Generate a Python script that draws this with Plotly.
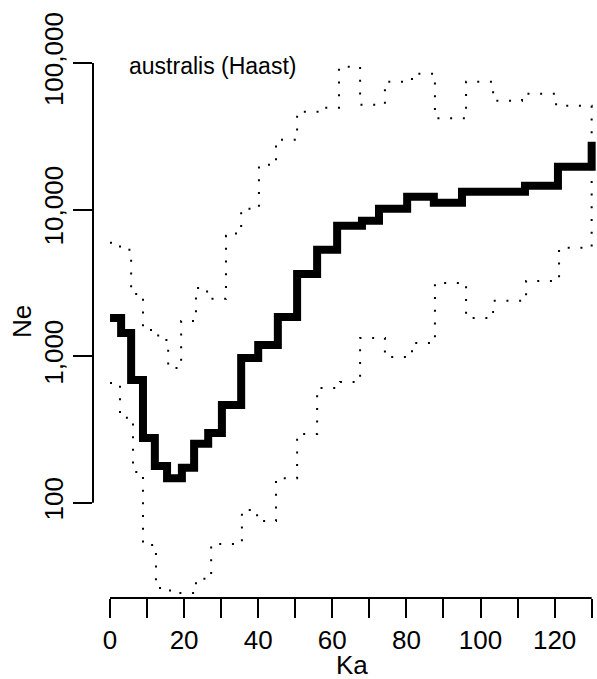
import math
import plotly.graph_objects as go

# ---- data ----
ka_median = [0, 3.0, 5.7, 8.9, 12.1, 15.4, 19.4, 22.7, 26.5, 30.2, 35.4, 40.0, 45.3, 50.5,
             55.9, 61.3, 68.0, 72.6, 80.2, 87.4, 95.0, 112.0, 120.9, 130]
ne_median = [1823, 1440, 688, 276, 178, 147, 173, 252, 299, 464, 972, 1193, 1852, 3640,
             5308, 7740, 8373, 10110, 12210, 11110, 13210, 14510, 19560, 28990]

ka_upper = [0, 2.7, 5.7, 8.9, 13.0, 15.7, 19.2, 23.2, 26.2, 31.3, 34.0, 35.4, 40.2, 44.8,
            50.5, 57.2, 61.8, 67.5, 74.2, 81.5, 87.7, 96.1, 103.4, 111.2, 120.4, 130]
ne_upper = [5925, 5308, 2658, 1510, 1290, 831, 1739, 2921, 2458, 6614, 7502, 10110, 20190, 29910,
            46430, 49440, 94210, 51830, 74400, 84400, 42000, 74400, 55210, 61630, 51020, 30860]

ka_lower = [0, 2.7, 6.2, 8.9, 12.4, 16.2, 23.2, 27.3, 35.6, 39.7, 44.8, 50.5, 55.9, 62.1,
            67.5, 74.2, 81.5, 87.7, 96.1, 103.4, 112.3, 121.2, 130]
ne_lower = [656, 379, 162, 51.4, 26.2, 24.2, 30.2, 52.3, 89.2, 75.0, 147, 294, 607, 667,
            1331, 987, 1231, 3160, 1823, 2382, 3261, 5477, 25560]

x_tickvals = list(range(0, 131, 10))
x_ticktext = [str(v) if v % 20 == 0 else "" for v in x_tickvals]
y_tickvals = [100, 1000, 10000, 100000]
y_ticktext = ["100", "1,000", "10,000", "100,000"]

title_text = "australis (Haast)"
x_label = "Ka"
y_label = "Ne"

# ---- figure ----
FONT = "Liberation Sans, Arial, Helvetica, sans-serif"
X_RANGE = [-4.59, 131.44]
Y_RANGE = [1.3495, 5.116]  # log10 units

fig = go.Figure()
dot = dict(color="black", width=2, dash="2px,10.7px")
fig.add_trace(go.Scatter(x=ka_upper, y=ne_upper, mode="lines", line=dict(shape="hv", **dot),
                         hoverinfo="skip", showlegend=False))
fig.add_trace(go.Scatter(x=ka_lower, y=ne_lower, mode="lines", line=dict(shape="hv", **dot),
                         hoverinfo="skip", showlegend=False))
fig.add_trace(go.Scatter(x=ka_median, y=ne_median, mode="lines",
                         line=dict(shape="hv", color="black", width=8),
                         showlegend=False))

def yfrac(v):
    return (math.log10(v) - Y_RANGE[0]) / (Y_RANGE[1] - Y_RANGE[0])

# R-style axis lines spanning only the tick range
fig.add_shape(type="line", xref="x", yref="paper", x0=x_tickvals[0], x1=x_tickvals[-1],
              y0=0, y1=0, line=dict(color="black", width=2))
fig.add_shape(type="line", xref="paper", yref="paper", x0=0, x1=0,
              y0=yfrac(y_tickvals[0]), y1=yfrac(y_tickvals[-1]), line=dict(color="black", width=2))

fig.add_annotation(text=title_text, xref="paper", yref="paper",
                   x=(127 - 93) / 504, y=(598 - 66) / 552, xanchor="left", yanchor="middle",
                   showarrow=False, font=dict(family=FONT, size=23, color="black"))
fig.add_annotation(text=x_label, xref="paper", yref="paper",
                   x=(352 - 93) / 504, y=(598 - 665) / 552, xanchor="center", yanchor="middle",
                   showarrow=False, font=dict(family=FONT, size=26, color="black"))
fig.add_annotation(text=y_label, xref="paper", yref="paper",
                   x=(22 - 93) / 504, y=(598 - 322) / 552, xanchor="center", yanchor="middle",
                   textangle=-90, showarrow=False, font=dict(family=FONT, size=26, color="black"))

fig.update_layout(
    width=597, height=679,
    margin=dict(l=93, r=0, t=46, b=81, pad=0, autoexpand=False),
    paper_bgcolor="white", plot_bgcolor="white",
    font=dict(family=FONT, size=26, color="black"),
    xaxis=dict(range=X_RANGE, showgrid=False, zeroline=False, showline=False, automargin=False,
               ticks="outside", ticklen=19, tickwidth=2, tickcolor="black",
               tickvals=x_tickvals, ticktext=x_ticktext, tickangle=0,
               tickfont=dict(family=FONT, size=26, color="black")),
    yaxis=dict(type="log", range=Y_RANGE, showgrid=False, zeroline=False, showline=False,
               automargin=False,
               ticks="outside", ticklen=19, tickwidth=2, tickcolor="black",
               tickvals=y_tickvals, ticktext=y_ticktext, tickangle=-90,
               tickfont=dict(family=FONT, size=26, color="black")),
)

fig.write_html("out.html",
               config={"displayModeBar": False},
               post_script="document.body.style.margin='0px';document.body.style.overflow='hidden';")
